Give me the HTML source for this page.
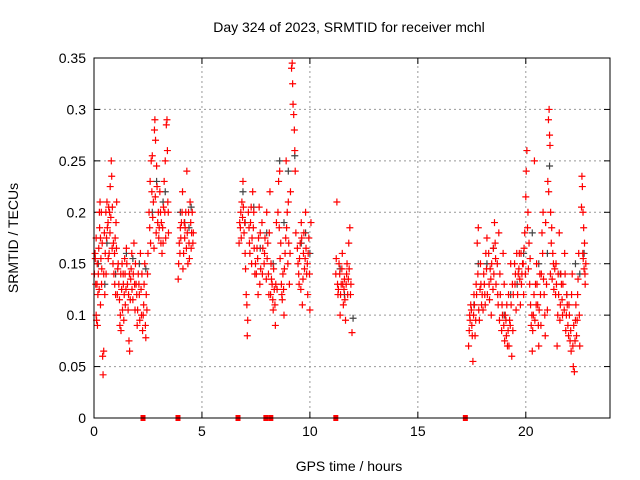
<!DOCTYPE html>
<html><head><meta charset="utf-8"><style>
html,body{margin:0;padding:0;background:#fff;}
svg{display:block;font-family:"Liberation Sans",sans-serif;}
</style></head><body>
<svg id="chart" width="640" height="480" viewBox="0 0 640 480" xmlns="http://www.w3.org/2000/svg">
<rect x="0" y="0" width="640" height="480" fill="#fff"/>
<text x="349" y="32" font-size="14" text-anchor="middle" fill="#000">Day 324 of 2023, SRMTID for receiver mchl</text>
<text x="349" y="471" font-size="14" text-anchor="middle" fill="#000">GPS time / hours</text>
<text transform="translate(18,238) rotate(-90)" font-size="14" text-anchor="middle" fill="#000">SRMTID / TECUs</text>
<g id="grid"></g>
<g id="ticks"></g>
<g id="marks"></g>
<rect x="94" y="58" width="516" height="360" fill="none" stroke="#000" stroke-width="1"/>
</svg>
<script>
const xTicks=[0,5,10,15,20];
const yTicks=[0,0.05,0.1,0.15,0.2,0.25,0.3,0.35];
const yTickLabels=["0","0.05","0.1","0.15","0.2","0.25","0.3","0.35"];
// red series: [hour, value]
const redPoints=[
[0.05,0.16],[0.08,0.13],[0.1,0.1],[0.12,0.095],[0.15,0.15],[0.18,0.12],[0.2,0.14],[0.22,0.165],[0.25,0.2],[0.28,0.21],[0.3,0.175],[0.3,0.11],[0.35,0.13],[0.38,0.17],[0.4,0.06],[0.42,0.042],[0.45,0.065],[0.45,0.14],[0.5,0.12],
[0.55,0.2],[0.6,0.21],[0.62,0.185],[0.65,0.19],[0.7,0.16],[0.72,0.2],[0.75,0.225],[0.8,0.25],[0.82,0.235],[0.85,0.205],[0.9,0.17],[0.92,0.14],[0.95,0.16],[1.0,0.12],[1.02,0.19],[1.05,0.21],[1.1,0.145],
[1.15,0.13],[1.2,0.09],[1.22,0.1],[1.25,0.085],[1.3,0.15],[1.35,0.14],[1.4,0.12],[1.42,0.155],[1.45,0.11],[1.5,0.165],[1.55,0.13],[1.6,0.12],[1.62,0.075],[1.65,0.065],[1.7,0.135],[1.75,0.16],[1.8,0.115],[1.85,0.17],[1.9,0.105],[1.95,0.13],
[2.0,0.09],[2.05,0.14],[2.1,0.12],[2.15,0.16],[2.2,0.1],[2.25,0.085],[2.3,0.11],[2.35,0.15],[2.4,0.078],[2.45,0.105],[2.5,0.16],
[2.55,0.2],[2.6,0.23],[2.65,0.25],[2.7,0.255],[2.75,0.21],[2.8,0.28],[2.82,0.29],[2.85,0.27],[2.9,0.245],[2.95,0.19],[3.0,0.175],[3.05,0.22],[3.08,0.2],
[3.15,0.16],[3.2,0.17],[3.25,0.23],[3.3,0.25],[3.35,0.285],[3.38,0.29],[3.4,0.26],[3.42,0.21],[3.45,0.18],
[3.9,0.135],[3.95,0.17],[4.0,0.185],[4.05,0.19],[4.1,0.22],[4.15,0.16],[4.2,0.175],[4.25,0.2],[4.3,0.24],[4.35,0.15],[4.4,0.17],[4.45,0.21],[4.5,0.165],[4.55,0.2],[4.6,0.18],
[6.75,0.19],[6.8,0.2],[6.85,0.21],[6.9,0.23],[6.95,0.18],[7.0,0.16],[7.05,0.12],[7.1,0.08],[7.12,0.095],[7.15,0.2],[7.2,0.17],[7.25,0.19],[7.3,0.15],[7.35,0.22],[7.4,0.2],[7.45,0.14],
[7.55,0.165],[7.6,0.12],[7.65,0.205],[7.7,0.18],[7.8,0.14],[7.9,0.16],[8.0,0.2],[8.05,0.17],[8.1,0.12],[8.15,0.22],[8.2,0.15],[8.25,0.13],[8.3,0.105],[8.35,0.125],[8.4,0.09],[8.45,0.19],
[8.55,0.23],[8.6,0.24],[8.65,0.17],[8.7,0.12],[8.75,0.14],[8.8,0.1],[8.85,0.16],[8.9,0.25],[8.95,0.2],[9.0,0.21],[9.05,0.13],[9.1,0.22],
[9.15,0.34],[9.18,0.345],[9.2,0.325],[9.22,0.305],[9.25,0.295],[9.28,0.28],[9.3,0.26],[9.32,0.24],[9.35,0.18],
[9.45,0.15],[9.5,0.13],[9.55,0.17],[9.6,0.19],[9.65,0.11],[9.7,0.16],[9.75,0.145],[9.8,0.2],[9.85,0.14],[9.9,0.12],[9.95,0.175],[10.0,0.105],[10.05,0.19],
[11.2,0.14],[11.25,0.21],[11.3,0.12],[11.35,0.15],[11.4,0.1],[11.45,0.13],[11.5,0.16],[11.55,0.11],[11.6,0.135],[11.65,0.095],[11.7,0.14],[11.75,0.12],[11.8,0.17],[11.85,0.185],[11.9,0.13],[11.95,0.083],
[17.35,0.07],[17.4,0.1],[17.45,0.11],[17.5,0.09],[17.55,0.055],[17.6,0.12],[17.65,0.08],[17.7,0.13],[17.75,0.17],[17.8,0.185],[17.85,0.095],[17.9,0.15],[17.95,0.11],
[18.05,0.14],[18.1,0.12],[18.15,0.16],[18.2,0.175],[18.3,0.13],[18.35,0.145],[18.4,0.1],[18.5,0.165],[18.55,0.19],[18.6,0.155],[18.7,0.12],[18.75,0.18],[18.8,0.14],[18.9,0.11],[18.95,0.16],
[19.0,0.13],[19.05,0.1],[19.1,0.08],[19.15,0.07],[19.2,0.12],[19.25,0.095],[19.3,0.15],[19.35,0.06],[19.4,0.085],[19.5,0.13],[19.55,0.105],
[19.65,0.14],[19.7,0.16],[19.75,0.11],[19.8,0.13],[19.85,0.15],[19.9,0.12],[19.95,0.18],[20.0,0.215],[20.02,0.24],[20.05,0.26],[20.1,0.2],[20.15,0.17],[20.2,0.155],[20.25,0.09],
[20.3,0.065],[20.35,0.1],[20.4,0.25],[20.45,0.13],[20.5,0.15],[20.55,0.11],[20.6,0.07],[20.65,0.14],[20.7,0.09],[20.75,0.18],[20.8,0.2],[20.85,0.12],[20.9,0.08],
[21.0,0.105],[21.05,0.29],[21.08,0.3],[21.1,0.275],[21.12,0.265],[21.15,0.2],[21.2,0.185],[21.25,0.16],[21.3,0.125],
[21.4,0.15],[21.45,0.07],[21.5,0.14],[21.55,0.18],[21.6,0.11],[21.65,0.13],[21.7,0.1],[21.8,0.16],[21.85,0.085],[21.9,0.12],[21.95,0.09],
[22.0,0.11],[22.05,0.075],[22.1,0.065],[22.15,0.14],[22.2,0.05],[22.25,0.045],[22.3,0.095],[22.35,0.08],[22.4,0.12],[22.45,0.16],[22.5,0.07],
[22.6,0.235],[22.62,0.225],[22.65,0.2],[22.68,0.185],[22.7,0.145],[22.72,0.17],[22.75,0.13]
];
// additional red points (denser cores)
const redPoints2=[
[0.02,0.14],[0.06,0.155],[0.1,0.175],[0.14,0.13],[0.16,0.09],[0.24,0.125],[0.26,0.185],[0.32,0.155],[0.34,0.2],[0.36,0.145],[0.48,0.18],[0.52,0.16],[0.56,0.14],[0.58,0.175],[0.66,0.155],[0.68,0.205],[0.74,0.18],[0.78,0.195],[0.84,0.165],[0.88,0.15],[0.96,0.13],[0.98,0.175],[1.04,0.165],[1.08,0.12],
[1.12,0.15],[1.18,0.115],[1.24,0.14],[1.28,0.125],[1.32,0.105],[1.36,0.13],[1.38,0.095],[1.44,0.14],[1.48,0.125],[1.52,0.15],[1.58,0.105],[1.64,0.14],[1.68,0.115],[1.72,0.145],[1.76,0.125],[1.82,0.14],[1.88,0.13],[1.92,0.15],[1.98,0.12],
[2.02,0.105],[2.08,0.13],[2.12,0.095],[2.18,0.125],[2.22,0.14],[2.28,0.1],[2.32,0.13],[2.38,0.09],[2.42,0.12],[2.48,0.14],
[2.58,0.185],[2.62,0.17],[2.68,0.22],[2.72,0.195],[2.78,0.165],[2.84,0.215],[2.88,0.18],[2.92,0.225],[2.98,0.2],[3.02,0.185],[3.1,0.17],[3.12,0.19],[3.18,0.185],[3.22,0.205],[3.28,0.2],[3.32,0.175],[3.44,0.2],
[3.92,0.15],[3.98,0.16],[4.02,0.175],[4.08,0.2],[4.12,0.145],[4.18,0.19],[4.22,0.185],[4.28,0.165],[4.32,0.18],[4.38,0.2],[4.42,0.155],[4.48,0.19],[4.52,0.18],[4.58,0.17],
[6.72,0.17],[6.78,0.185],[6.82,0.175],[6.88,0.195],[6.92,0.205],[6.98,0.19],[7.02,0.145],[7.08,0.11],[7.18,0.185],[7.22,0.16],[7.28,0.205],[7.32,0.175],[7.38,0.185],[7.42,0.165],[7.48,0.15],
[7.52,0.14],[7.58,0.155],[7.62,0.175],[7.68,0.13],[7.72,0.145],[7.78,0.19],[7.82,0.165],[7.88,0.15],[7.92,0.175],[7.98,0.135],[8.02,0.155],[8.08,0.14],[8.12,0.18],[8.18,0.12],[8.22,0.135],[8.28,0.115],[8.32,0.145],[8.38,0.11],[8.42,0.13],[8.48,0.125],
[8.52,0.2],[8.58,0.185],[8.62,0.155],[8.68,0.13],[8.72,0.115],[8.78,0.125],[8.82,0.145],[8.88,0.175],[8.92,0.185],[8.98,0.15],[9.02,0.17],[9.08,0.16],
[9.42,0.165],[9.48,0.14],[9.52,0.155],[9.58,0.125],[9.62,0.175],[9.68,0.135],[9.72,0.18],[9.78,0.155],[9.82,0.165],[9.88,0.15],[9.92,0.16],[9.98,0.14],
[11.22,0.155],[11.28,0.13],[11.32,0.125],[11.38,0.14],[11.42,0.12],[11.48,0.145],[11.52,0.13],[11.58,0.125],[11.62,0.115],[11.68,0.13],[11.72,0.15],[11.78,0.135],[11.82,0.145],[11.88,0.12],
[17.38,0.085],[17.42,0.095],[17.48,0.105],[17.52,0.08],[17.58,0.1],[17.62,0.11],[17.68,0.095],[17.72,0.12],[17.78,0.14],[17.82,0.105],[17.88,0.125],[17.92,0.13],[17.98,0.12],
[18.02,0.105],[18.08,0.13],[18.12,0.11],[18.18,0.145],[18.22,0.12],[18.28,0.16],[18.32,0.115],[18.38,0.135],[18.42,0.15],[18.48,0.125],[18.52,0.14],[18.58,0.17],[18.62,0.13],[18.68,0.15],[18.72,0.11],[18.78,0.095],[18.82,0.12],[18.88,0.085],[18.92,0.1],[18.98,0.09],
[19.02,0.075],[19.08,0.095],[19.12,0.11],[19.18,0.085],[19.22,0.07],[19.28,0.09],[19.32,0.11],[19.38,0.13],[19.42,0.12],[19.48,0.15],[19.52,0.14],[19.58,0.16],
[19.62,0.12],[19.68,0.145],[19.72,0.135],[19.78,0.16],[19.82,0.14],[19.88,0.15],[19.92,0.165],[19.98,0.14],[20.08,0.185],[20.12,0.145],[20.18,0.13],[20.22,0.11],
[20.28,0.1],[20.32,0.085],[20.38,0.12],[20.42,0.095],[20.48,0.11],[20.52,0.13],[20.58,0.09],[20.62,0.105],[20.68,0.12],[20.72,0.14],[20.78,0.16],[20.82,0.135],[20.88,0.1],[20.92,0.19],[20.96,0.13],
[21.02,0.23],[21.06,0.22],[21.14,0.14],[21.18,0.17],[21.22,0.135],[21.28,0.15],[21.34,0.145],[21.38,0.12],[21.42,0.13],[21.48,0.1],[21.52,0.12],[21.58,0.095],[21.62,0.14],[21.68,0.115],[21.72,0.13],[21.78,0.105],[21.82,0.14],[21.88,0.1],[21.92,0.11],[21.98,0.08],
[22.02,0.1],[22.08,0.085],[22.12,0.12],[22.18,0.07],[22.22,0.09],[22.28,0.075],[22.32,0.11],[22.38,0.095],[22.42,0.135],[22.48,0.1],
[22.58,0.205],[22.64,0.16],[22.66,0.155],[22.74,0.14],[22.78,0.15]
];
// black series
const blackPoints=[
[0.2,0.15],[0.6,0.17],[1.0,0.14],[1.8,0.155],[2.4,0.145],[2.9,0.23],[3.3,0.22],[4.2,0.19],[4.5,0.205],[6.9,0.22],[7.4,0.205],[8.0,0.18],[8.6,0.25],[9.0,0.24],[9.3,0.255],[9.8,0.18],[11.4,0.145],[12.0,0.097],[17.8,0.15],[18.5,0.165],[19.3,0.12],[19.9,0.16],[20.3,0.18],[21.1,0.245],[21.6,0.14],[22.3,0.15],[22.7,0.16],
[0.5,0.13],[1.5,0.16],[2.1,0.15],[2.7,0.2],[3.2,0.21],[4.0,0.2],[4.4,0.185],[7.0,0.19],[7.7,0.165],[8.3,0.15],[8.8,0.19],[9.6,0.17],[10.0,0.16],[11.6,0.12],[17.6,0.11],[18.2,0.15],[19.0,0.1],[19.6,0.13],[20.6,0.15],[21.0,0.16],[21.9,0.12],[22.5,0.14]
];
// gap markers on x axis
const gapHours=[2.27,3.89,6.67,7.96,8.19,11.2,17.2];

const X0=94,X1=610,Y0=418,Y1=58,XMAX=23.9,YMAX=0.35;
const sx=h=>X0+h/XMAX*(X1-X0);
const sy=v=>Y0-v/YMAX*(Y0-Y1);
const NS="http://www.w3.org/2000/svg";
function mk(tag,attrs,parent){const e=document.createElementNS(NS,tag);for(const k in attrs)e.setAttribute(k,attrs[k]);parent.appendChild(e);return e;}
const grid=document.getElementById('grid'),ticks=document.getElementById('ticks'),marks=document.getElementById('marks');
xTicks.forEach(t=>{
  const x=sx(t);
  if(t>0){const g=mk('line',{x1:x,y1:Y0,x2:x,y2:Y1,stroke:'#999','stroke-dasharray':'2,3'},grid);
  
  }
  mk('line',{x1:x,y1:Y0,x2:x,y2:Y0-6,stroke:'#000'},ticks);
  mk('line',{x1:x,y1:Y1,x2:x,y2:Y1+6,stroke:'#000'},ticks);
  const l=mk('text',{x:x,y:Y0+18,'font-size':14,'text-anchor':'middle'},ticks);l.textContent=t;
  
  
});
yTicks.forEach((t,i)=>{
  const y=sy(t);
  if(t>0&&t<YMAX){const g=mk('line',{x1:X0,y1:y,x2:X1,y2:y,stroke:'#999','stroke-dasharray':'2,3'},grid);
  
  }
  mk('line',{x1:X0,y1:y,x2:X0+6,y2:y,stroke:'#000'},ticks);
  mk('line',{x1:X1,y1:y,x2:X1-6,y2:y,stroke:'#000'},ticks);
  const l=mk('text',{x:X0-8,y:y+5,'font-size':14,'text-anchor':'end'},ticks);l.textContent=yTickLabels[i];
  
  
});
function plus(h,v,color,name){
  const x=sx(h),y=sy(v);
  const p=mk('path',{d:`M${x-3.5},${y}H${x+3.5}M${x},${y-3.5}V${y+3.5}`,stroke:color,'stroke-width':1.2,fill:'none'},marks);
  
  
}
blackPoints.forEach(p=>plus(p[0],p[1],'#444','black-point'));
redPoints.forEach(p=>plus(p[0],p[1],'#f00','red-point'));
redPoints2.forEach(p=>plus(p[0],p[1],'#f00','red-point'));
gapHours.forEach(h=>{
  const r=mk('rect',{x:sx(h)-2.5,y:Y0-3,width:5,height:6,fill:'#f00'},marks);
  
  
});
</script>
</body></html>
